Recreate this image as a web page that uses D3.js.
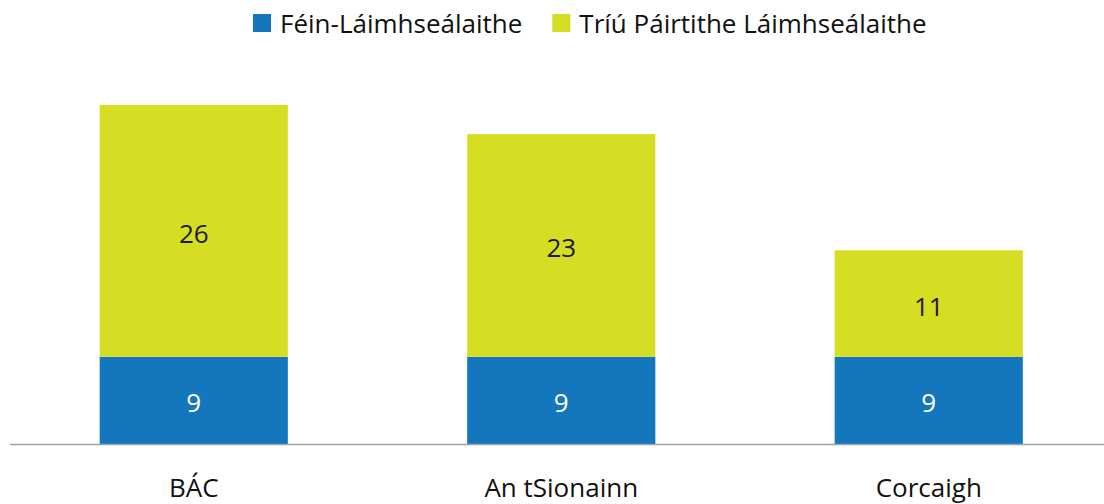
<!DOCTYPE html>
<html>
<head>
<meta charset="utf-8">
<script src="https://cdn.jsdelivr.net/npm/d3@7"></script>
<style>
  body { margin: 0; background: #fff; }
  text { font-family: "Open Sans", sans-serif; }
</style>
</head>
<body>
<div id="chart"></div>
<script>
var width = 1104, height = 504;

var categories = ["BÁC", "An tSionainn", "Corcaigh"];
var seriesNames = ["Féin-Láimhseálaithe", "Tríú Páirtithe Láimhseálaithe"];
var selfHandled = [9, 9, 9];
var thirdParty = [26, 23, 11];
var colors = ["#1476bd", "#d6de23"];
var labelColors = ["#ffffff", "#1a1a1a"];

var data = categories.map((c, i) => ({ key: c, a: selfHandled[i], b: thirdParty[i] }));
var stacked = d3.stack().keys(["a", "b"])(data);

var svg = d3.select("#chart").append("svg")
    .attr("width", width)
    .attr("height", height);

var x = d3.scaleBand()
    .domain(categories)
    .range([10, 1112.5])
    .paddingInner(0.488)
    .paddingOuter(0.244);

var y = d3.scaleLinear()
    .domain([0, 35])
    .range([444, 105]);

var layers = svg.selectAll("g.layer")
    .data(stacked)
    .enter().append("g")
    .classed("layer", true)
    .attr("fill", (d, i) => colors[i]);

layers.selectAll("rect")
    .data(d => d)
    .enter().append("rect")
    .attr("x", d => x(d.data.key))
    .attr("y", d => y(d[1]))
    .attr("width", x.bandwidth())
    .attr("height", d => y(d[0]) - y(d[1]));

layers.each(function (s, si) {
    d3.select(this).selectAll("text")
        .data(s)
        .enter().append("text")
        .attr("x", d => x(d.data.key) + x.bandwidth() / 2)
        .attr("y", d => (y(d[0]) + y(d[1])) / 2)
        .attr("dy", "0.46em")
        .attr("text-anchor", "middle")
        .attr("font-size", 26)
        .attr("fill", labelColors[si])
        .text(d => d[1] - d[0]);
});

// baseline axis
var axis = svg.append("g")
    .attr("transform", "translate(0,444)")
    .call(d3.axisBottom(x).tickSize(0).tickPadding(35));
axis.select(".domain").attr("d", "M10,0.5H1104").attr("stroke", "#a0a0a0").attr("stroke-width", 1.5);
axis.selectAll(".tick text")
    .attr("font-size", 26)
    .attr("fill", "#111")
    .style("font-family", "'Open Sans', sans-serif");

// legend
var legend = svg.append("g").attr("transform", "translate(253,0)");
var lx = 0;
seriesNames.forEach((name, i) => {
    var g = legend.append("g").attr("transform", "translate(" + lx + ",0)");
    g.append("rect").attr("x", 0).attr("y", 14).attr("width", 18).attr("height", 18).attr("fill", colors[i]);
    var t = g.append("text").attr("x", 27).attr("y", 33).attr("font-size", 26).attr("fill", "#111").text(name);
    lx += 27 + t.node().getComputedTextLength() + 30;
});
</script>
</body>
</html>
